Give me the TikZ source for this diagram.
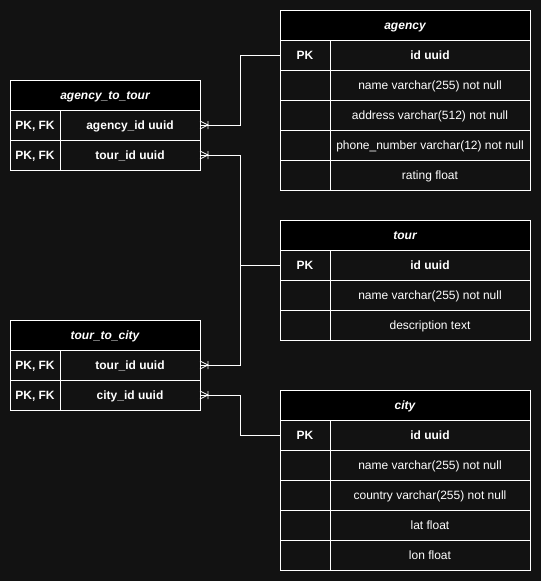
\documentclass[tikz,border=0pt]{standalone}
\usepackage{fontspec}
\setmainfont{Liberation Sans}
\usetikzlibrary{positioning}
\definecolor{bgdark}{HTML}{121212}
\tikzset{
erd/.style={x=1pt,y=-1pt,color=white,line width=1pt,
font=\fontsize{12}{14}\selectfont},
cell/.style={draw,minimum height=30pt,inner sep=0pt,outer sep=0pt,
text height=10pt,text depth=1.5pt},
title/.style={cell,fill=black,font=\fontsize{12}{14}\selectfont\bfseries\itshape},
keycell/.style={cell,minimum width=50pt,font=\fontsize{12}{14}\selectfont\bfseries},
field/.style={cell,minimum width=#1},
field/.default={200pt},
keyfield/.style={field=#1,font=\fontsize{12}{14}\selectfont\bfseries},
keyfield/.default={200pt},
link/.style={line width=1pt},
crowsfoot/.pic={\draw[line width=0.8pt] (0,4) -- (8,0) -- (0,-4) (8,4) -- (8,-4);},
}

\begin{document}
\begin{tikzpicture}[erd]
\fill[bgdark] (0,0) rectangle (541,581);

% agency
\node[title,minimum width=250pt,anchor=north west] (agency) at (280,10) {agency};
\node[keycell,below right=0pt and 0pt of agency.south west] (agk1) {PK};
\node[keyfield,right=0pt of agk1] (agf1) {id uuid};
\node[keycell,below=0pt of agk1] (agk2) {};
\node[field,right=0pt of agk2] (agf2) {name varchar(255) not null};
\node[keycell,below=0pt of agk2] (agk3) {};
\node[field,right=0pt of agk3] (agf3) {address varchar(512) not null};
\node[keycell,below=0pt of agk3] (agk4) {};
\node[field,right=0pt of agk4] (agf4) {phone\_number varchar(12) not null};
\node[keycell,below=0pt of agk4] (agk5) {};
\node[field,right=0pt of agk5] (agf5) {rating float};

% tour
\node[title,minimum width=250pt,anchor=north west] (tour) at (280,220) {tour};
\node[keycell,below right=0pt and 0pt of tour.south west] (tk1) {PK};
\node[keyfield,right=0pt of tk1] (tf1) {id uuid};
\node[keycell,below=0pt of tk1] (tk2) {};
\node[field,right=0pt of tk2] (tf2) {name varchar(255) not null};
\node[keycell,below=0pt of tk2] (tk3) {};
\node[field,right=0pt of tk3] (tf3) {description text};

% city
\node[title,minimum width=250pt,anchor=north west] (city) at (280,390) {city};
\node[keycell,below right=0pt and 0pt of city.south west] (ck1) {PK};
\node[keyfield,right=0pt of ck1] (cf1) {id uuid};
\node[keycell,below=0pt of ck1] (ck2) {};
\node[field,right=0pt of ck2] (cf2) {name varchar(255) not null};
\node[keycell,below=0pt of ck2] (ck3) {};
\node[field,right=0pt of ck3] (cf3) {country varchar(255) not null};
\node[keycell,below=0pt of ck3] (ck4) {};
\node[field,right=0pt of ck4] (cf4) {lat float};
\node[keycell,below=0pt of ck4] (ck5) {};
\node[field,right=0pt of ck5] (cf5) {lon float};

% link tables
\node[title,minimum width=190pt,anchor=north west] (att) at (10,80) {agency\_to\_tour};
\node[keycell,below right=0pt and 0pt of att.south west] (attk1) {PK, FK};
\node[keyfield=140pt,right=0pt of attk1] (attf1) {agency\_id uuid};
\node[keycell,below=0pt of attk1] (attk2) {PK, FK};
\node[keyfield=140pt,right=0pt of attk2] (attf2) {tour\_id uuid};

\node[title,minimum width=190pt,anchor=north west] (ttc) at (10,320) {tour\_to\_city};
\node[keycell,below right=0pt and 0pt of ttc.south west] (ttck1) {PK, FK};
\node[keyfield=140pt,right=0pt of ttck1] (ttcf1) {tour\_id uuid};
\node[keycell,below=0pt of ttck1] (ttck2) {PK, FK};
\node[keyfield=140pt,right=0pt of ttck2] (ttcf2) {city\_id uuid};

\coordinate (bus) at (240,0);
\draw[link] (attf1.east) -- (attf1.east -| bus) |- (agk1.west);
\draw[link] (attf2.east) -- (attf2.east -| bus) |- (tk1.west);
\draw[link] (ttcf1.east) -- (ttcf1.east -| bus) |- (tk1.west);
\draw[link] (ttcf2.east) -- (ttcf2.east -| bus) |- (ck1.west);
\pic at (attf1.east) {crowsfoot};
\pic at (attf2.east) {crowsfoot};
\pic at (ttcf1.east) {crowsfoot};
\pic at (ttcf2.east) {crowsfoot};
\end{tikzpicture}
\end{document}
